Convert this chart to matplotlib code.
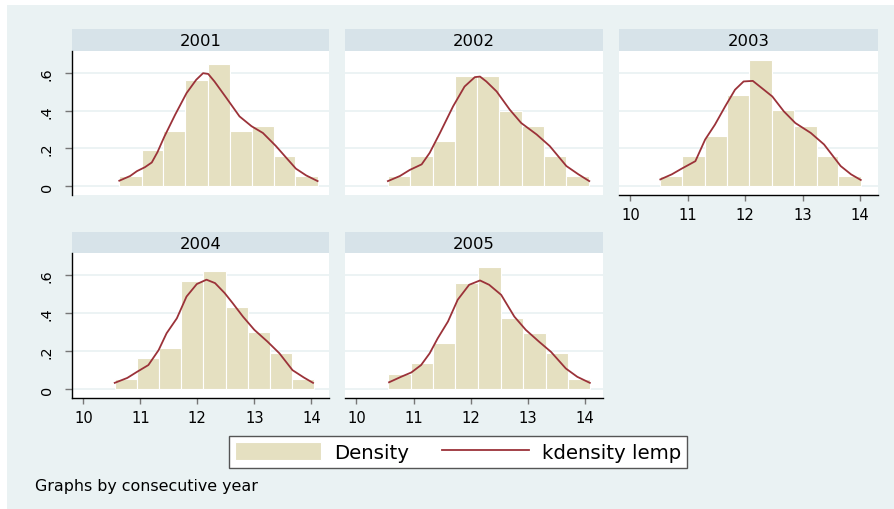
import matplotlib
matplotlib.use("Agg")
import matplotlib.pyplot as plt
from matplotlib.patches import Rectangle

plt.rcParams['font.family'] = ['DejaVu Sans']

# histogram bin edges and densities of lemp, one set per year
years = ['2001', '2002', '2003', '2004', '2005']
edges_2001 = [10.63, 11.02, 11.40, 11.79, 12.18, 12.57, 12.95, 13.34, 13.72, 14.11]
edges_2002 = [10.55, 10.94, 11.33, 11.72, 12.11, 12.50, 12.89, 13.28, 13.67, 14.07]
edges_2003 = [10.51, 10.90, 11.29, 11.68, 12.07, 12.47, 12.84, 13.24, 13.62, 14.02]
edges_2004 = [10.55, 10.94, 11.33, 11.71, 12.10, 12.50, 12.89, 13.27, 13.66, 14.05]
edges_2005 = [10.55, 10.95, 11.34, 11.73, 12.12, 12.52, 12.92, 13.31, 13.70, 14.09]
dens_2001 = [0.051, 0.189, 0.295, 0.565, 0.649, 0.295, 0.321, 0.162, 0.051]
dens_2002 = [0.051, 0.159, 0.238, 0.586, 0.586, 0.400, 0.321, 0.159, 0.051]
dens_2003 = [0.053, 0.159, 0.268, 0.482, 0.671, 0.402, 0.321, 0.159, 0.053]
dens_2004 = [0.055, 0.165, 0.218, 0.568, 0.621, 0.432, 0.299, 0.189, 0.055]
dens_2005 = [0.081, 0.135, 0.241, 0.559, 0.642, 0.373, 0.294, 0.188, 0.055]

# kernel density estimates
kx_2001 = [10.63, 10.82, 10.94, 11.08, 11.20, 11.30, 11.42, 11.61, 11.81, 11.98, 12.10,
           12.19, 12.30, 12.51, 12.74, 12.95, 13.15, 13.38, 13.56, 13.73, 13.91, 14.11]
ky_2001 = [0.028, 0.053, 0.079, 0.100, 0.125, 0.180, 0.262, 0.379, 0.494, 0.565, 0.600,
           0.596, 0.556, 0.468, 0.370, 0.318, 0.282, 0.212, 0.150, 0.092, 0.056, 0.026]
kx_2002 = [10.55, 10.76, 10.93, 11.14, 11.28, 11.46, 11.69, 11.89, 12.07, 12.16, 12.27,
           12.45, 12.68, 12.88, 13.15, 13.38, 13.67, 13.88, 14.07]
ky_2002 = [0.026, 0.053, 0.085, 0.115, 0.176, 0.282, 0.424, 0.529, 0.579, 0.582, 0.556,
           0.503, 0.406, 0.335, 0.274, 0.212, 0.106, 0.062, 0.026]
kx_2003 = [10.52, 10.72, 10.89, 11.13, 11.30, 11.47, 11.65, 11.82, 11.97, 12.13, 12.29,
           12.47, 12.67, 12.87, 13.14, 13.37, 13.66, 13.84, 14.01]
ky_2003 = [0.035, 0.062, 0.092, 0.132, 0.247, 0.326, 0.424, 0.512, 0.556, 0.559, 0.520,
           0.476, 0.397, 0.335, 0.282, 0.221, 0.106, 0.062, 0.032]
kx_2004 = [10.55, 10.77, 10.94, 11.14, 11.32, 11.46, 11.64, 11.81, 11.99, 12.16, 12.31,
           12.48, 12.62, 12.80, 13.00, 13.23, 13.44, 13.67, 13.87, 14.03]
ky_2004 = [0.032, 0.058, 0.090, 0.126, 0.205, 0.294, 0.373, 0.488, 0.554, 0.577, 0.559,
           0.506, 0.453, 0.382, 0.312, 0.250, 0.188, 0.099, 0.060, 0.032]
kx_2005 = [10.57, 10.78, 10.96, 11.13, 11.28, 11.42, 11.60, 11.77, 11.97, 12.16, 12.32,
           12.53, 12.76, 12.96, 13.19, 13.40, 13.66, 13.86, 14.08]
ky_2005 = [0.035, 0.064, 0.087, 0.126, 0.188, 0.267, 0.356, 0.471, 0.550, 0.573, 0.550,
           0.497, 0.382, 0.312, 0.250, 0.196, 0.108, 0.064, 0.032]

edges_all = [edges_2001, edges_2002, edges_2003, edges_2004, edges_2005]
dens_all = [dens_2001, dens_2002, dens_2003, dens_2004, dens_2005]
kx_all = [kx_2001, kx_2002, kx_2003, kx_2004, kx_2005]
ky_all = [ky_2001, ky_2002, ky_2003, ky_2004, ky_2005]

x_ticks = [10, 11, 12, 13, 14]
y_ticks = [0, 0.2, 0.4, 0.6]
y_ticklabels = ['0', '.2', '.4', '.6']

# colours
bg_col = '#EAF2F3'
strip_col = '#D7E3E9'
bar_col = '#E5E0C1'
line_col = '#9B3239'

W, H = 894, 510


def px_rect(x0, y0, x1, y1):
    ''' pixel box (top-left origin) => figure fraction rect '''
    return [x0 / W, 1 - y1 / H, (x1 - x0) / W, (y1 - y0) / H]


fig = plt.figure(figsize=(W / 100, H / 100), dpi=100, facecolor='white')
fig.patches.append(Rectangle((7 / W, 0), 1, 1 - 6 / H, transform=fig.transFigure,
                             facecolor=bg_col, edgecolor='none', zorder=-5))

col_x = [(72, 329), (345, 603), (619, 878)]
row_y = [(30, 52, 196), (233, 254, 399)]
# which panel sits where: (row, col, show y axis, show x axis)
layout = [(0, 0, True, False), (0, 1, False, False), (0, 2, False, True),
          (1, 0, True, True), (1, 1, False, True)]

bar_handle = None
line_handle = None
for i_set, year in enumerate(years):
    row, col, show_y, show_x = layout[i_set]
    x0, x1 = col_x[col]
    s0, p0, p1 = row_y[row]

    # strip with the year
    sax = fig.add_axes(px_rect(x0, s0, x1, p0))
    sax.set_facecolor(strip_col)
    for sp in sax.spines.values():
        sp.set_visible(False)
    sax.set_xticks([])
    sax.set_yticks([])
    sax.text(0.5, 0.47, year, ha='center', va='center', fontsize=11.8,
             transform=sax.transAxes)

    ax = fig.add_axes(px_rect(x0, p0, x1, p1))
    ax.set_facecolor('white')
    edges = edges_all[i_set]
    widths = [edges[k + 1] - edges[k] for k in range(len(edges) - 1)]
    bars = ax.bar(edges[:-1], dens_all[i_set], width=widths, align='edge',
                  color=bar_col, edgecolor='white', linewidth=0.8, zorder=2)
    line, = ax.plot(kx_all[i_set], ky_all[i_set], color=line_col, lw=1.3, zorder=3)
    if bar_handle is None:
        bar_handle, line_handle = bars, line

    for yv in y_ticks:
        ax.axhline(yv, color=bg_col, lw=1.3, zorder=1)
    ax.set_xlim(9.8, 14.31)
    ax.set_ylim(-0.048, 0.718)
    for sp in ax.spines.values():
        sp.set_visible(False)

    ax.set_yticks(y_ticks)
    if show_y:
        ax.spines['left'].set_visible(True)
        ax.spines['left'].set_linewidth(1.0)
        ax.set_yticklabels(y_ticklabels, rotation=90, va='center', fontsize=10.4)
        ax.tick_params(axis='y', length=5.3, width=1.0, color='#777777', pad=8)
    else:
        ax.tick_params(axis='y', left=False, labelleft=False)

    ax.set_xticks(x_ticks)
    if show_x:
        ax.spines['bottom'].set_visible(True)
        ax.spines['bottom'].set_linewidth(1.0)
        ax.set_xticklabels([str(t) for t in x_ticks], fontsize=10.6)
        ax.tick_params(axis='x', length=4.3, width=1.0, color='#777777', pad=4.5)
    else:
        ax.tick_params(axis='x', bottom=False, labelbottom=False)

leg = fig.legend([bar_handle, line_handle], ['Density', 'kdensity lemp'],
                 loc='center', bbox_to_anchor=(458 / W, 1 - 453 / H),
                 ncol=2, fontsize=14.2, handlelength=4.4, handleheight=0.97,
                 handletextpad=0.66, columnspacing=1.68, borderpad=0.3,
                 borderaxespad=0.0, fancybox=False, framealpha=1,
                 edgecolor='#555555')
leg.get_frame().set_linewidth(1.0)

fig.text(35 / W, 1 - 487 / H, 'Graphs by consecutive year', fontsize=11.4,
         ha='left', va='center')

fig.savefig('out.png', dpi=100, facecolor='white')
